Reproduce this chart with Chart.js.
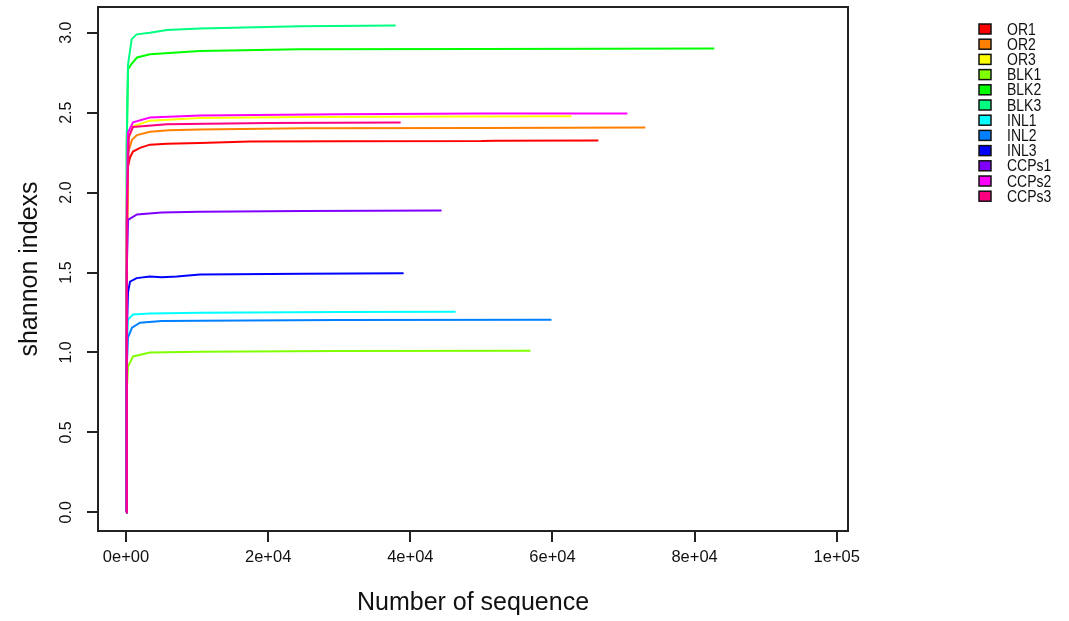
<!DOCTYPE html>
<html>
<head>
<meta charset="utf-8">
<script src="https://cdn.jsdelivr.net/npm/chart.js@4"></script>
<style>
  body { margin: 0; background: #fff; }
  #wrap { width: 1069px; height: 621px; }
</style>
</head>
<body>
<div id="wrap"><canvas id="rare" width="1069" height="621"></canvas></div>
<script>
// sample names, in plotting order
const samples = ["OR1", "OR2", "OR3", "BLK1", "BLK2", "BLK3", "INL1", "INL2", "INL3", "CCPs1", "CCPs2", "CCPs3"]

// rarefaction points: [number of sequences, shannon index]
const OR1 = [[0, 0], [100, 1.5], [280, 2.165], [560, 2.22], [984, 2.257], [1967, 2.28], [3372, 2.30], [5761, 2.305], [10400, 2.31], [17420, 2.319], [30000, 2.321], [50000, 2.322], [52000, 2.325], [66460, 2.326]]
const OR2 = [[0, 0], [100, 1.6], [280, 2.25], [843, 2.33], [1546, 2.36], [3372, 2.38], [6000, 2.39], [10400, 2.395], [25000, 2.402], [50000, 2.404], [73060, 2.407]]
const OR3 = [[0, 0], [100, 1.7], [280, 2.33], [984, 2.415], [3372, 2.45], [10400, 2.466], [25000, 2.473], [45000, 2.476], [62670, 2.478]]
const BLK1 = [[0, 0], [100, 0.75], [280, 0.91], [984, 0.975], [3372, 0.999], [10400, 1.005], [30000, 1.009], [56900, 1.011]]
const BLK2 = [[0, 0], [100, 2.3], [280, 2.77], [700, 2.80], [1546, 2.845], [3372, 2.865], [10400, 2.885], [24450, 2.896], [50000, 2.899], [82760, 2.902]]
const BLK3 = [[0, 0], [100, 2.3], [280, 2.8], [800, 2.96], [1500, 2.99], [3370, 3.0], [5720, 3.017], [10400, 3.027], [24450, 3.04], [37940, 3.046]]
const INL1 = [[0, 0], [100, 1.0], [280, 1.205], [984, 1.237], [3372, 1.243], [10400, 1.249], [30000, 1.253], [46370, 1.255]]
const INL2 = [[0, 0], [100, 0.9], [280, 1.093], [843, 1.155], [1967, 1.186], [5000, 1.196], [10400, 1.199], [30000, 1.203], [59860, 1.205]]
const INL3 = [[0, 0], [100, 1.1], [280, 1.375], [562, 1.443], [1500, 1.465], [3372, 1.475], [5000, 1.47], [7166, 1.475], [10400, 1.487], [25000, 1.492], [39060, 1.495]]
const CCPs1 = [[0, 0], [100, 1.5], [280, 1.83], [1546, 1.863], [5000, 1.875], [10400, 1.88], [25000, 1.885], [44400, 1.888]]
const CCPs2 = [[0, 0], [100, 1.9], [280, 2.376], [984, 2.44], [3372, 2.47], [10400, 2.482], [30000, 2.49], [50000, 2.494], [70540, 2.495]]
const CCPs3 = [[0, 0], [100, 1.8], [400, 2.35], [984, 2.41], [5761, 2.427], [20000, 2.435], [38640, 2.439]]

const curves = [OR1, OR2, OR3, BLK1, BLK2, BLK3, INL1, INL2, INL3, CCPs1, CCPs2, CCPs3]

// axis ticks
const xTicks = [0, 20000, 40000, 60000, 80000, 100000]
const yTicks = [0, 0.5, 1, 1.5, 2, 2.5, 3]

// rainbow(12) like R
const colors = ["#FF0000", "#FF8000", "#FFFF00", "#80FF00", "#00FF00", "#00FF80",
    "#00FFFF", "#0080FF", "#0000FF", "#8000FF", "#FF00FF", "#FF0080"]

const FONT = "'Liberation Sans', Arial, Helvetica, sans-serif"

function sci(v) {
    let parts = v.toExponential().split("e")
    let e = parts[1]
    return parts[0] + "e" + e[0] + e.slice(1).padStart(2, "0")
}

// box round the plot + y labels (R style, rotated) + legend
const extras = {
    id: "extras",
    afterDraw(chart) {
        const c = chart.ctx
        const a = chart.chartArea
        c.save()
        c.strokeStyle = "#222"
        c.lineWidth = 2
        c.strokeRect(a.left, a.top, a.right - a.left, a.bottom - a.top)

        // y tick labels
        c.fillStyle = "#111"
        c.font = "16px " + FONT
        c.textAlign = "center"
        c.textBaseline = "middle"
        yTicks.forEach(v => {
            const y = chart.scales.y.getPixelForValue(v)
            c.save()
            c.translate(67, y)
            c.rotate(-Math.PI / 2)
            c.fillText(v.toFixed(1), 0, 0)
            c.restore()
        })

        // legend (text a bit taller, like the original)
        c.font = "14px " + FONT
        c.textAlign = "left"
        samples.forEach((s, i) => {
            const y = 29 + i * 15.2
            c.fillStyle = colors[i]
            c.fillRect(979, y - 5, 12, 10)
            c.strokeStyle = "#111"
            c.lineWidth = 1.5
            c.strokeRect(979, y - 5, 12, 10)
            c.fillStyle = "#111"
            c.save()
            c.translate(1007, y + 1)
            c.scale(1, 1.2)
            c.fillText(s, 0, 0)
            c.restore()
        })
        c.restore()
    }
}

const datasets = samples.map((s, i) => ({
    label: s,
    data: curves[i].map(p => ({x: p[0], y: p[1]})),
    borderColor: colors[i],
    backgroundColor: colors[i],
    borderWidth: 2,
    pointRadius: 0,
    tension: 0,
    fill: false,
    order: samples.length - i
}))

const ctx = document.getElementById("rare")

const rareChart = new Chart(ctx, {
    type: "line",
    data: {datasets: datasets},
    plugins: [extras],
    options: {
        responsive: false,
        animation: false,
        layout: {padding: {top: 7, right: 221, left: 0, bottom: 0}},
        plugins: {legend: {display: false}, tooltip: {enabled: false}},
        scales: {
            x: {
                type: "linear",
                min: -3940,
                max: 101580,
                afterBuildTicks: s => { s.ticks = xTicks.map(v => ({value: v})) },
                afterFit: s => { s.height = 90 },
                border: {display: false},
                grid: {display: true, drawOnChartArea: false, drawTicks: true, tickLength: 11, color: "#222", lineWidth: 2},
                ticks: {
                    autoSkip: false, maxRotation: 0, padding: 6, color: "#111",
                    font: {family: FONT, size: 16.5},
                    callback: v => sci(v)
                },
                title: {
                    display: true, text: "Number of sequence", color: "#111",
                    font: {family: FONT, size: 25}, padding: {top: 0, bottom: 3}
                }
            },
            y: {
                type: "linear",
                min: -0.117,
                max: 3.161,
                afterBuildTicks: s => { s.ticks = yTicks.map(v => ({value: v})) },
                afterFit: s => { s.width = 98 },
                border: {display: false},
                grid: {display: true, drawOnChartArea: false, drawTicks: true, tickLength: 11, color: "#222", lineWidth: 2},
                ticks: {display: false},
                title: {
                    display: true, text: "shannon indexs", color: "#111",
                    font: {family: FONT, size: 25}, padding: {top: 15, bottom: 0}
                }
            }
        }
    }
});
</script>
</body>
</html>
